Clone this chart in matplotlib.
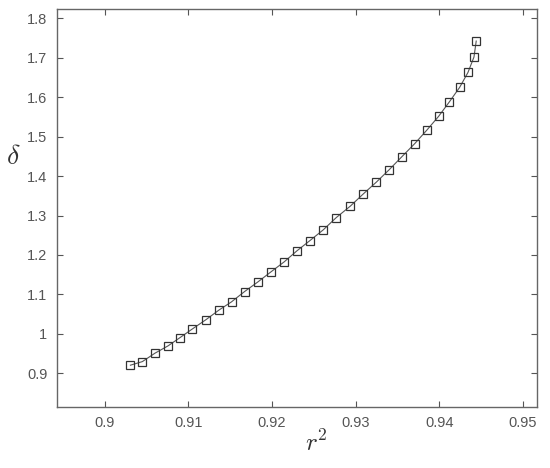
import numpy as np
import matplotlib.pyplot as plt

plt.rcParams['font.family'] = ['Liberation Sans', 'DejaVu Sans']
plt.rcParams['mathtext.fontset'] = 'cm'

# values
r2 = [0.90308, 0.90451, 0.90602, 0.90758, 0.90902, 0.91050, 0.91213, 0.91365,
      0.91517, 0.91673, 0.91829, 0.91984, 0.92147, 0.92299, 0.92455, 0.92614,
      0.92770, 0.92938, 0.93090, 0.93249, 0.93401, 0.93553, 0.93709, 0.93853,
      0.93992, 0.94120, 0.94244, 0.94344, 0.94416, 0.94443]
delta = [0.9203, 0.9294, 0.9508, 0.9693, 0.9904, 1.0124, 1.0360, 1.0599,
         1.0810, 1.1071, 1.1310, 1.1563, 1.1825, 1.2104, 1.2365, 1.2637,
         1.2949, 1.3239, 1.3543, 1.3848, 1.4160, 1.4490, 1.4827, 1.5168,
         1.5513, 1.5878, 1.6249, 1.6629, 1.7020, 1.7426]

xticks = [0.9, 0.91, 0.92, 0.93, 0.94, 0.95]
xticklabels = ['0.9', '0.91', '0.92', '0.93', '0.94', '0.95']
yticks = [0.9, 1.0, 1.1, 1.2, 1.3, 1.4, 1.5, 1.6, 1.7, 1.8]
yticklabels = ['0.9', '1', '1.1', '1.2', '1.3', '1.4', '1.5', '1.6', '1.7', '1.8']

fig = plt.figure(figsize=(5.5, 4.68), dpi=100)
ax = fig.add_axes([0.1036, 0.131, 0.8728, 0.8498])

ax.plot(r2, delta, color='#555555', lw=0.8, marker='s', ms=5.3,
        mfc='none', mec='#333333', mew=0.9)

ax.set_xlim(0.8943, 0.9517)
ax.set_ylim(0.815, 1.824)
ax.set_xticks(xticks)
ax.set_xticklabels(xticklabels)
ax.set_yticks(yticks)
ax.set_yticklabels(yticklabels)

gray = '#555555'
for s in ax.spines.values():
    s.set_color('#666666')
    s.set_linewidth(1.0)
ax.tick_params(direction='in', top=True, right=True, length=4, width=0.8,
               color='#555555', labelcolor=gray, labelsize=10.5, pad=7)

ax.set_xlabel(r'$r^2$', fontsize=18, color='#333333')
ax.set_ylabel(r'$\delta$', fontsize=20, color='#333333', rotation=0)
ax.xaxis.set_label_coords(0.54, -0.091)
ax.yaxis.set_label_coords(-0.09, 0.628)
ax.yaxis.label.set_va('center')
ax.xaxis.label.set_va('center')

plt.savefig('out.png')
